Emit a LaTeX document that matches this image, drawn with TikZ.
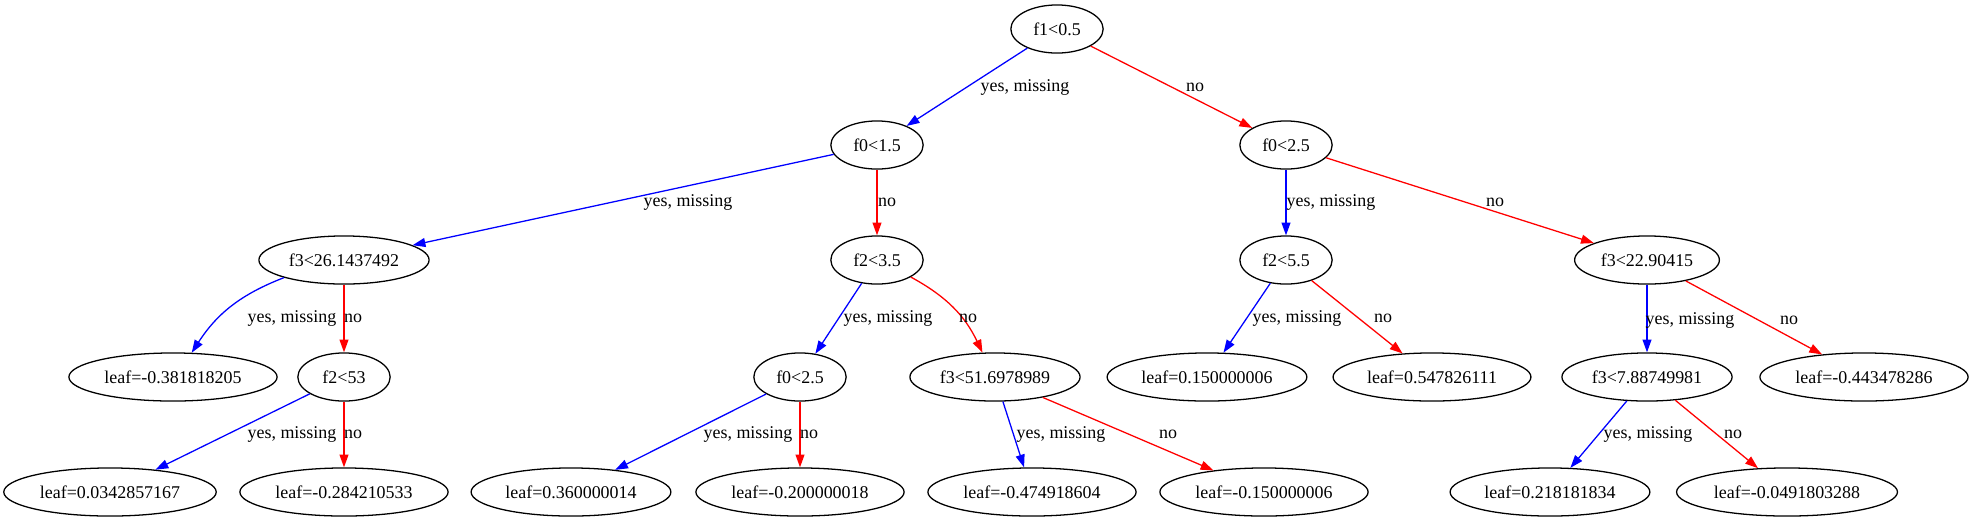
\documentclass[tikz,border=0pt]{standalone}
\usepackage{fontspec}
\setmainfont{Liberation Serif}
\usepackage{tikz}
\usetikzlibrary{shapes.geometric}
\usetikzlibrary{arrows.meta}

\begin{document}
\begin{tikzpicture}[x=0.78pt, y=-0.78pt,
  every node/.style={font=\fontsize{14}{16}\selectfont},
  tnode/.style={ellipse, draw, line width=1pt, minimum width=72pt, minimum height=37.5pt, inner sep=3.9pt},
  yesline/.style={blue, line width=1pt, -{Triangle[length=10pt, width=7pt]}},
  noline/.style={red, line width=1pt, -{Triangle[length=10pt, width=7pt]}}]

\useasboundingbox (0,0) rectangle (1970,523);

\node[tnode] (f1a) at (1057,29) {f1<0.5};

\node[tnode] (f0a) at (877,145) {f0<1.5};
\node[tnode] (f0b) at (1286,145) {f0<2.5};

\node[tnode] (f3a) at (344,260) {f3<26.1437492};
\node[tnode] (f2a) at (877,260) {f2<3.5};
\node[tnode] (f2b) at (1286,260) {f2<5.5};
\node[tnode] (f3b) at (1647,260) {f3<22.90415};

\node[tnode] (leafa) at (173,377) {leaf=-0.381818205};
\node[tnode] (f2c) at (344,377) {f2<53};
\node[tnode] (f0c) at (800,377) {f0<2.5};
\node[tnode] (f3c) at (995,377) {f3<51.6978989};
\node[tnode] (leafb) at (1207,377) {leaf=0.150000006};
\node[tnode] (leafc) at (1432,377) {leaf=0.547826111};
\node[tnode] (f3d) at (1647,377) {f3<7.88749981};
\node[tnode] (leafd) at (1864,377) {leaf=-0.443478286};

\node[tnode] (leafe) at (110,492) {leaf=0.0342857167};
\node[tnode] (leaff) at (344,492) {leaf=-0.284210533};
\node[tnode] (leafg) at (571,492) {leaf=0.360000014};
\node[tnode] (leafh) at (800,492) {leaf=-0.200000018};
\node[tnode] (leafi) at (1032,492) {leaf=-0.474918604};
\node[tnode] (leafj) at (1264,492) {leaf=-0.150000006};
\node[tnode] (leafk) at (1550,492) {leaf=0.218181834};
\node[tnode] (leafl) at (1787,492) {leaf=-0.0491803288};


\draw[yesline] (f1a) -- (f0a);
\draw[noline] (f1a) -- (f0b);
\node (ya) at (1025,87) {yes, missing};
\node (na) at (1195,87) {no};

\draw[yesline] (f0a) -- (f3a);
\draw[noline] (f0a) -- (f2a);
\node (yb) at (688,202) {yes, missing};
\node (nb) at (887,202) {no};

\draw[yesline] (f0b) -- (f2b);
\draw[noline] (f0b) -- (f3b);
\node (yc) at (1331,202) {yes, missing};
\node (nc) at (1495,202) {no};

\draw[yesline] (f3a) to[bend right=18] (leafa);
\draw[noline] (f3a) -- (f2c);
\node (yd) at (292,318) {yes, missing};
\node (nd) at (353,318) {no};

\draw[yesline] (f2a) -- (f0c);
\draw[noline] (f2a) to[bend left=18] (f3c);
\node (ye) at (888,318) {yes, missing};
\node (ne) at (968,318) {no};

\draw[yesline] (f2b) -- (leafb);
\draw[noline] (f2b) -- (leafc);
\node (yf) at (1297,318) {yes, missing};
\node (nf) at (1383,318) {no};

\draw[yesline] (f3b) -- (f3d);
\draw[noline] (f3b) -- (leafd);
\node (yg) at (1690,320) {yes, missing};
\node (ng) at (1789,320) {no};

\draw[yesline] (f2c) -- (leafe);
\draw[noline] (f2c) -- (leaff);
\node (yh) at (292,434) {yes, missing};
\node (nh) at (353,434) {no};

\draw[yesline] (f0c) -- (leafg);
\draw[noline] (f0c) -- (leafh);
\node (yi) at (748,434) {yes, missing};
\node (ni) at (809,434) {no};

\draw[yesline] (f3c) -- (leafi);
\draw[noline] (f3c) -- (leafj);
\node (yj) at (1061,434) {yes, missing};
\node (nj) at (1168,434) {no};

\draw[yesline] (f3d) -- (leafk);
\draw[noline] (f3d) -- (leafl);
\node (yk) at (1648,434) {yes, missing};
\node (nk) at (1733,434) {no};

\end{tikzpicture}
\end{document}
